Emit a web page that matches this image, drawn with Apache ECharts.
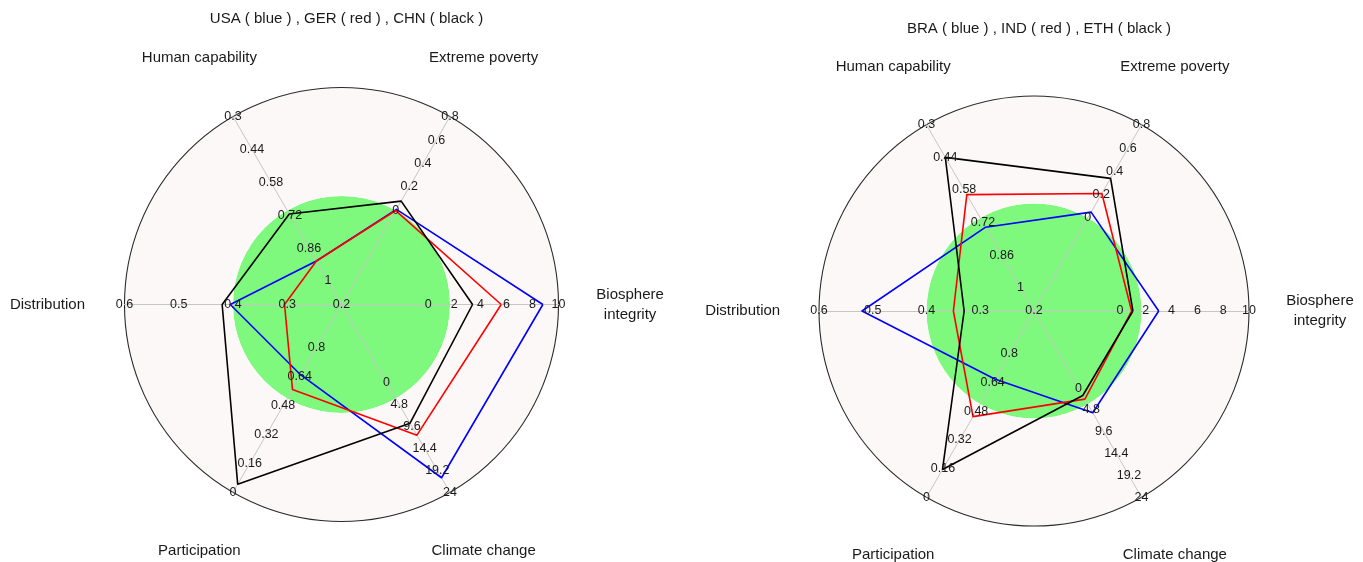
<!DOCTYPE html>
<html>
<head>
<meta charset="utf-8">
<script src="https://cdn.jsdelivr.net/npm/echarts@6/dist/echarts.min.js"></script>
<style>
  html, body { margin: 0; padding: 0; background: #ffffff; }
  #chart { width: 1363px; height: 562px; }
</style>
</head>
<body>
<div id="chart"></div>
<script>
// Spokes, counter-clockwise from the right-hand side
const axisNames = ['Biosphere\nintegrity', 'Extreme poverty', 'Human capability', 'Distribution', 'Participation', 'Climate change'];
// Value found at the centre and at the rim of each spoke
const axisCentre = [-20 / 3, -0.8, 1.1, 0.2, 1.04, -17];
const axisRim = [10, 0.8, 0.3, 0.6, 0, 24];

// Tick labels along each spoke, from the inside out
const ticksBiosphere = [0, 2, 4, 6, 8, 10];
const ticksPoverty = [0, 0.2, 0.4, 0.6, 0.8];
const ticksCapability = [1, 0.86, 0.72, 0.58, 0.44, 0.3];
const ticksDistribution = [0.2, 0.3, 0.4, 0.5, 0.6];
const ticksParticipation = [0.8, 0.64, 0.48, 0.32, 0.16, 0];
const ticksClimate = [0, 4.8, 9.6, 14.4, 19.2, 24];

const titleLeft = 'USA ( blue ) , GER ( red ) , CHN ( black )';
const titleRight = 'BRA ( blue ) , IND ( red ) , ETH ( black )';

// Country values in spoke order
const usa = [8.8, 0.01, 0.915, 0.405, 0.65, 20.8];
const ger = [5.6, 0.0, 0.915, 0.305, 0.57, 11.5];
const chn = [3.4, 0.08, 0.715, 0.42, 0.045, 8.9];
const bra = [3.0, 0.05, 0.74, 0.52, 0.66, 5.4];
const ind = [0.9, 0.21, 0.60, 0.35, 0.45, 2.4];
const eth = [1.0, 0.34, 0.44, 0.33, 0.155, 1.6];

// ---- layout ----
const FONT = '"Liberation Sans", Arial, Helvetica, sans-serif';
const panels = [
  { cx: 341.5, cy: 304.5, r: 217, titleY: 19, title: titleLeft, series: [usa, ger, chn] },
  { cx: 1034, cy: 311, r: 215, titleY: 28.5, title: titleRight, series: [bra, ind, eth] }
];
const lineColors = ['#0000ff', '#ff0000', '#000000'];
const nameDist = [1.33, 1.31, 1.31, 1.355, 1.31, 1.31];

// Spokes that run from high at the centre to low at the rim are negated,
// so each radar indicator keeps min at the centre and max at the rim.
const sign = axisCentre.map((c, i) => (axisRim[i] > c ? 1 : -1));
const toAxis = arr => arr.map((v, i) => sign[i] * v);

const tickLists = [ticksBiosphere, ticksPoverty, ticksCapability, ticksDistribution, ticksParticipation, ticksClimate];
const ringCount = Math.max(...tickLists.map(t => t.length));
const tickRings = [];
const hiddenTicks = [];
for (let k = 0; k < ringCount; k++) {
  const hide = new Set();
  const vals = tickLists.map((list, i) => {
    if (k < list.length) return sign[i] * list[k];
    const v = sign[i] * list[list.length - 1];
    hide.add(v);
    return v;
  });
  tickRings.push({ value: vals });
  hiddenTicks.push(hide);
}
const fmtTick = v => String(+Math.abs(v).toFixed(2));

function radarCfg(p) {
  return {
    center: [p.cx, p.cy],
    radius: p.r,
    startAngle: 0,
    shape: 'circle',
    splitNumber: 2,
    indicator: axisNames.map((n, i) => ({ name: n, min: sign[i] * axisCentre[i], max: sign[i] * axisRim[i] })),
    axisName: { show: false },
    axisLine: { show: true, lineStyle: { color: '#c6c6c6', width: 1 } },
    axisTick: { show: false },
    axisLabel: { show: false },
    splitLine: { show: true, lineStyle: { color: ['rgba(0,0,0,0)', 'rgba(0,0,0,0)', '#2a2a2a'], width: 1.1 } },
    splitArea: { show: true, areaStyle: { color: ['#7ef97e', '#fcf8f8'] } }
  };
}

function tickSeries(idx) {
  return {
    type: 'radar',
    radarIndex: idx,
    silent: true,
    symbol: 'circle',
    symbolSize: 1,
    itemStyle: { color: 'rgba(0,0,0,0)' },
    lineStyle: { width: 0, opacity: 0 },
    label: {
      show: true,
      position: 'inside',
      color: '#1a1a1a',
      fontSize: 12.5,
      fontFamily: FONT,
      formatter: p => (hiddenTicks[p.dataIndex].has(p.value) ? '' : fmtTick(p.value))
    },
    data: tickRings
  };
}

function dataSeries(idx, p) {
  return {
    type: 'radar',
    radarIndex: idx,
    symbol: 'none',
    data: p.series.map((s, j) => ({
      value: toAxis(s),
      lineStyle: { color: lineColors[j], width: 1.6 }
    }))
  };
}

const graphics = [];
panels.forEach(p => {
  graphics.push({
    type: 'text', x: p.cx + 5, y: p.titleY,
    style: { text: p.title, font: '15px ' + FONT, fill: '#1a1a1a', textAlign: 'center', textVerticalAlign: 'middle', align: 'center', verticalAlign: 'middle' }
  });
  axisNames.forEach((n, i) => {
    const a = i * Math.PI / 3;
    const d = nameDist[i] * p.r;
    graphics.push({
      type: 'text', x: p.cx + d * Math.cos(a), y: p.cy - d * Math.sin(a),
      style: { text: n, font: '15px ' + FONT, fill: '#1a1a1a', textAlign: 'center', textVerticalAlign: 'middle', align: 'center', verticalAlign: 'middle', lineHeight: 20 }
    });
  });
});

const chart = echarts.init(document.getElementById('chart'), null, { renderer: 'canvas' });
chart.setOption({
  animation: false,
  backgroundColor: '#ffffff',
  radar: panels.map(radarCfg),
  series: [tickSeries(0), tickSeries(1), dataSeries(0, panels[0]), dataSeries(1, panels[1])],
  graphic: graphics
});
</script>
</body>
</html>
